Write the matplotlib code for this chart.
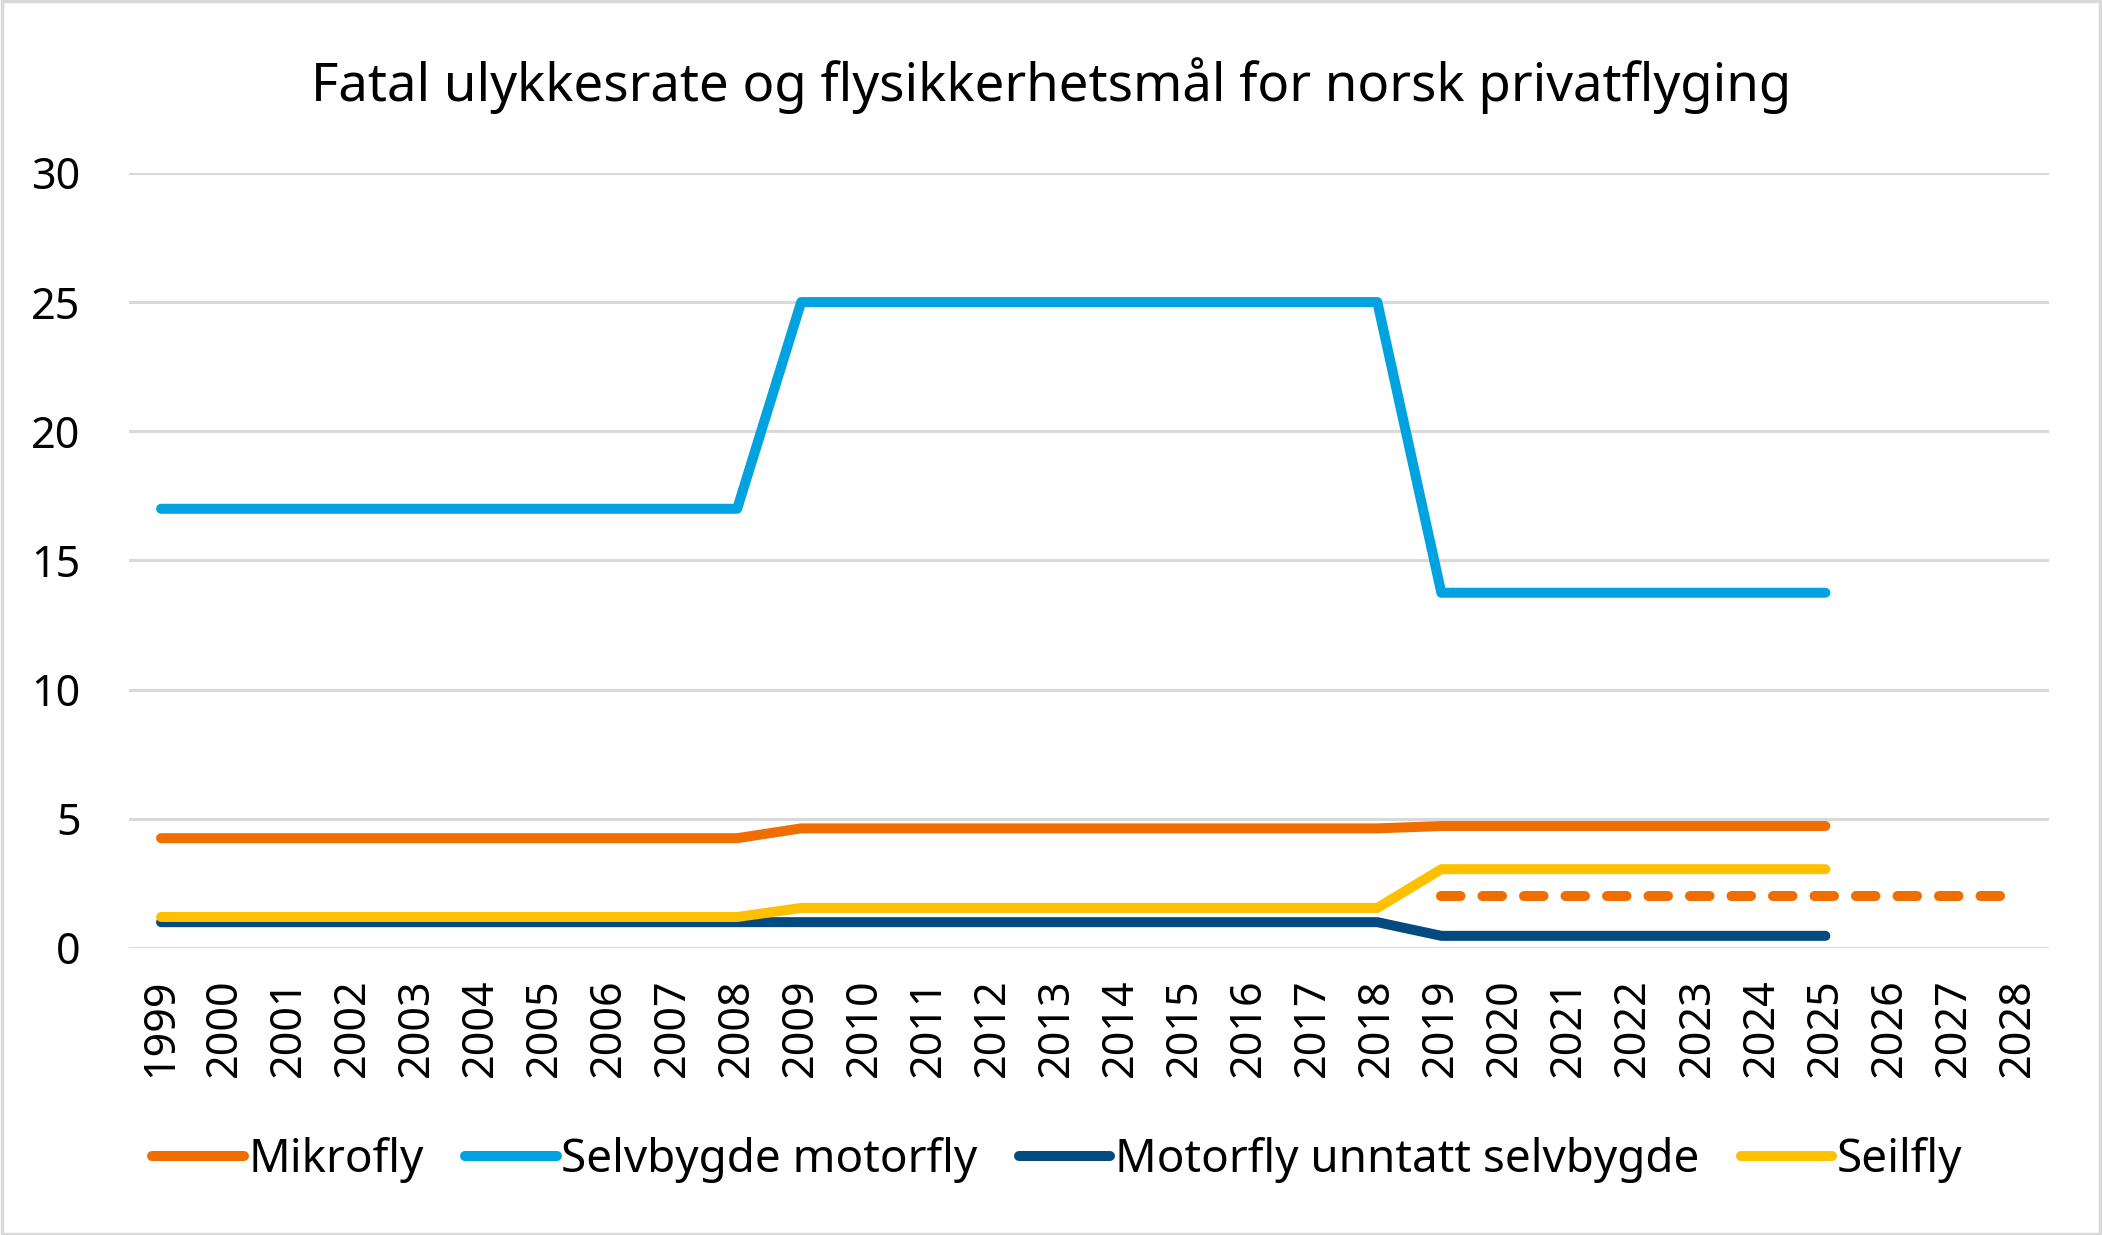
import matplotlib
matplotlib.use("Agg")
import matplotlib.pyplot as plt
import numpy as np

plt.rcParams['font.family'] = ['Noto Sans', 'DejaVu Sans']

years = [str(y) for y in range(1999, 2029)]
mikrofly = [4.25]*10 + [4.63]*10 + [4.72]*7
selvbygde = [17.0]*10 + [25.0]*10 + [13.75]*7
motorfly = [1.0]*10 + [1.0]*10 + [0.47]*7
seilfly = [1.2]*10 + [1.55]*10 + [3.05]*7
maal_years = years[20:]
maal = [2.0]*10

c_orange = '#F06E00'
c_blue = '#00A2DF'
c_navy = '#034A80'
c_yellow = '#FFC000'

fig = plt.figure(figsize=(21.02, 12.35), dpi=100)
ax = fig.add_axes([0.0614, 0.2324, 0.9136, 0.6276])

x = np.arange(len(years))
lw = 7.2
kw = dict(lw=lw, solid_capstyle='round', solid_joinstyle='round')
ax.plot(x[:len(mikrofly)], mikrofly, color=c_orange, label='Mikrofly', **kw)
ax.plot(x[:len(selvbygde)], selvbygde, color=c_blue, label='Selvbygde motorfly', **kw)
ax.plot(x[:len(motorfly)], motorfly, color=c_navy, label='Motorfly unntatt selvbygde', **kw)
ax.plot(x[:len(seilfly)], seilfly, color=c_yellow, label='Seilfly', **kw)
xm = np.arange(20, 20 + len(maal))
ax.plot(xm, maal, color=c_orange, lw=lw, linestyle=(0, (1.95, 2.2)), dash_capstyle='round')

ax.set_xlim(-0.5, len(years) - 0.5)
ax.set_ylim(0, 30)
ax.set_yticks([0, 5, 10, 15, 20, 25, 30])
ax.set_xticks(x)
ax.set_xticklabels(years, rotation=90, fontsize=31)
ax.tick_params(axis='y', labelsize=31, length=0, pad=35)
ax.tick_params(axis='x', length=0, pad=22)
for s in ax.spines.values():
    s.set_visible(False)
ax.grid(axis='y', color='#D9D9D9', lw=2.2)
ax.set_axisbelow(True)

fig.text(0.5, 0.9186, 'Fatal ulykkesrate og flysikkerhetsmål for norsk privatflyging',
         ha='center', va='baseline', fontsize=38)

leg = fig.legend(loc='center', bbox_to_anchor=(0.503, 0.061), ncol=4, frameon=False,
                 fontsize=33, handlelength=2.0, handletextpad=0.1, columnspacing=0.9)

fig.patches.append(plt.Rectangle((0.0008, 0.0012), 0.9984, 0.9976, transform=fig.transFigure,
                                 fill=False, edgecolor='#D9D9D9', lw=2.5))

fig.savefig('out.png', dpi=100)
